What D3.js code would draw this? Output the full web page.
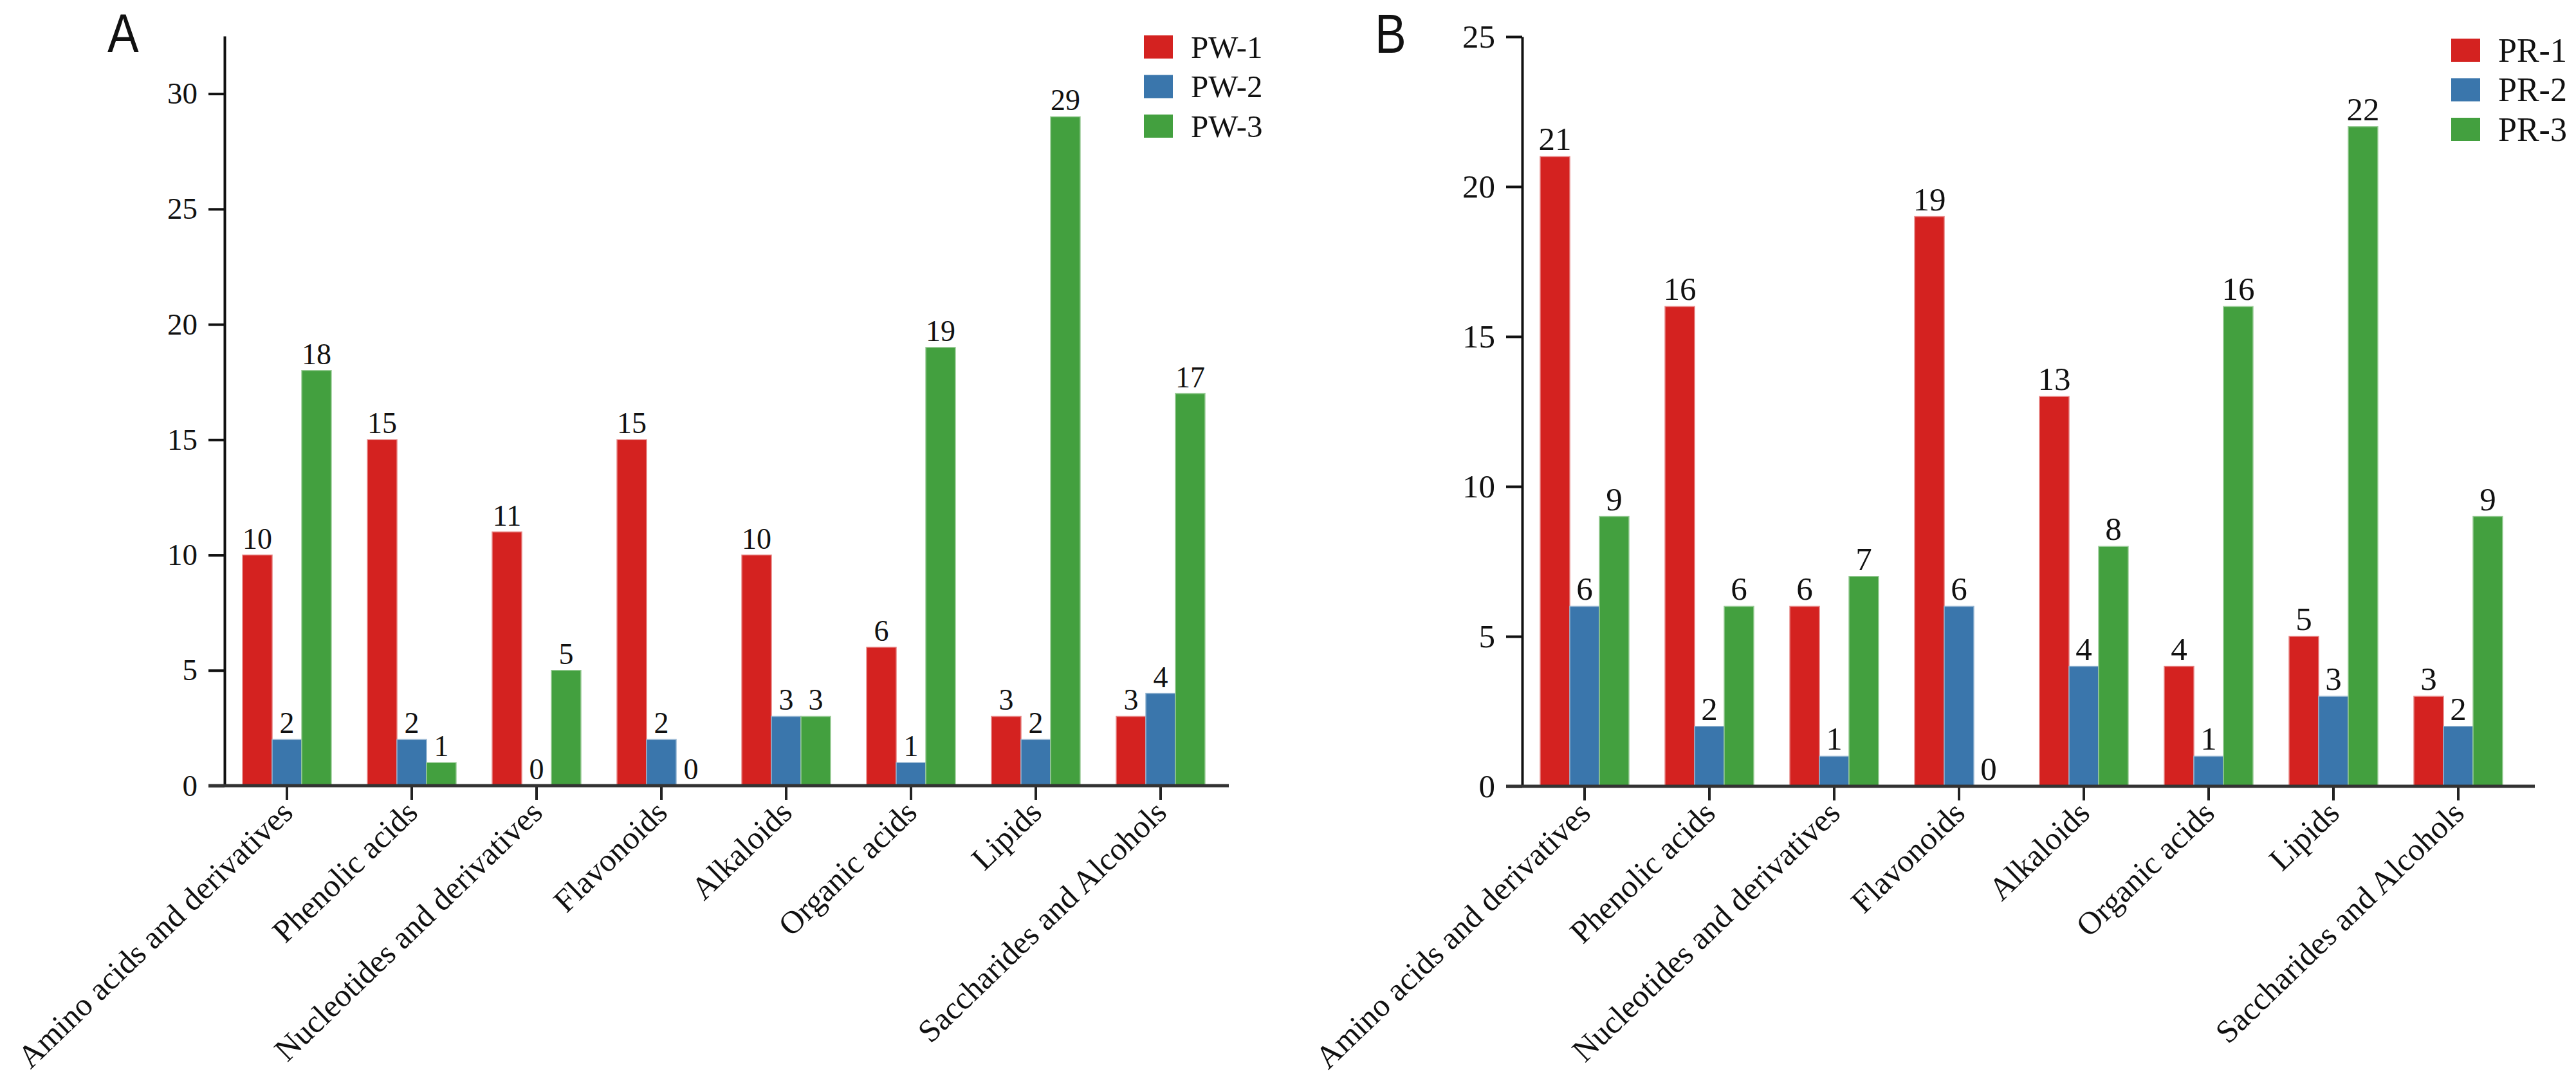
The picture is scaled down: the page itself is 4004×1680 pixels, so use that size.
<!DOCTYPE html>
<html>
<head>
<meta charset="utf-8">
<script src="https://cdn.jsdelivr.net/npm/d3@7"></script>
<style>
  body { margin: 0; background: #fff; }
  svg { display: block; }
</style>
</head>
<body>
<div id="chart"></div>
<script>
// data ---------------------------------------------------------
const categories = [
  "Amino acids and derivatives",
  "Phenolic acids",
  "Nucleotides and derivatives",
  "Flavonoids",
  "Alkaloids",
  "Organic acids",
  "Lipids",
  "Saccharides and Alcohols",
]
const seriesColors = ["#d42220", "#3a76ac", "#43a03f"]

const seriesA = ["PW-1", "PW-2", "PW-3"]
const pw1 = [10, 15, 11, 15, 10, 6, 3, 3]
const pw2 = [2, 2, 0, 2, 3, 1, 2, 4]
const pw3 = [18, 1, 5, 0, 3, 19, 29, 17]
const yTicksA = [0, 5, 10, 15, 20, 25, 30]

const seriesB = ["PR-1", "PR-2", "PR-3"]
const pr1 = [21, 16, 6, 19, 13, 4, 5, 3]
const pr2 = [6, 2, 1, 6, 4, 1, 3, 2]
const pr3 = [9, 6, 7, 0, 8, 16, 22, 9]
const yTicksB = [0, 5, 10, 15, 20, 25]

// layout -------------------------------------------------------
const W = 4004, H = 1680
const SERIF = "'Liberation Serif', 'Times New Roman', Times, serif"

const svg = d3.select("#chart").append("svg")
  .attr("width", W).attr("height", H)
  .attr("viewBox", `0 0 ${W} ${H}`)

function drawPanel(p) {
  const g = svg.append("g")

  // SCALES ----------------------
  const x = d3.scaleBand()
    .domain(categories)
    .range([p.left, p.left + 8 * 194])
    .paddingInner(0.289)
    .paddingOuter(0.1445)
  const xs = d3.scaleBand()
    .domain(p.series)
    .range([0, x.bandwidth()])
  const y = d3.scaleLinear()
    .domain([0, p.yMax])
    .range([p.base, p.top])

  // BARS ------------------------
  const rows = categories.map((c, i) => ({
    cat: c,
    vals: p.series.map((s, j) => ({ s, j, v: p.values[j][i] })),
  }))

  const groups = g.selectAll(".grp").data(rows).enter()
    .append("g")
    .attr("transform", d => `translate(${x(d.cat)},0)`)

  groups.selectAll("rect").data(d => d.vals).enter()
    .append("rect")
    .attr("x", d => xs(d.s))
    .attr("y", d => y(d.v))
    .attr("width", xs.bandwidth())
    .attr("height", d => p.base - y(d.v))
    .attr("fill", d => seriesColors[d.j])
    .attr("stroke", d => d3.interpolateRgb(seriesColors[d.j], "#fff")(0.45))
    .attr("stroke-width", d => (d.v > 0 ? 1.5 : 0))

  groups.selectAll("text").data(d => d.vals).enter()
    .append("text")
    .attr("x", d => xs(d.s) + xs.bandwidth() / 2)
    .attr("y", d => y(d.v) - 10)
    .attr("text-anchor", "middle")
    .attr("fill", "#111")
    .style("font-family", SERIF)
    .style("font-size", p.valueFont + "px")
    .text(d => d.v)

  // AXES ------------------------
  const gY = g.append("g").attr("transform", `translate(${p.left},0)`)
  gY.call(d3.axisLeft(y).tickValues(p.yTicks).tickSize(25).tickSizeOuter(0).tickPadding(17))
  gY.select(".domain").attr("stroke", "#111").attr("stroke-width", 4)
  gY.selectAll(".tick line").attr("stroke", "#111").attr("stroke-width", 4)
  gY.selectAll(".tick text")
    .attr("fill", "#111")
    .style("font-family", SERIF)
    .style("font-size", p.tickFont + "px")

  const gX = g.append("g").attr("transform", `translate(0,${p.base})`)
  gX.call(d3.axisBottom(x).tickSize(22).tickSizeOuter(0))
  gX.select(".domain").remove()
  gX.append("line")
    .attr("x1", p.left - 25).attr("x2", p.axisEnd)
    .attr("stroke", "#333").attr("stroke-width", 5)
  gX.selectAll(".tick line").attr("stroke", "#222").attr("stroke-width", 4)
  gX.selectAll(".tick text")
    .attr("fill", "#111")
    .attr("x", 0).attr("y", 0).attr("dy", null)
    .attr("text-anchor", "end")
    .attr("transform", "translate(12,45) rotate(-44)")
    .style("font-family", SERIF)
    .style("font-size", "50px")

  // LEGEND ----------------------
  const leg = g.selectAll(".leg").data(p.series).enter()
    .append("g")
    .attr("transform", (d, i) => `translate(${p.legX},${p.legY + i * 61.5})`)
  leg.append("rect")
    .attr("x", 0).attr("y", -18)
    .attr("width", 45).attr("height", 36)
    .attr("fill", (d, i) => seriesColors[i])
  leg.append("text")
    .attr("x", 73).attr("y", 0)
    .attr("dy", "0.34em")
    .attr("fill", "#111")
    .style("font-family", SERIF)
    .style("font-size", p.legFont + "px")
    .text(d => d)

  // PANEL LETTER ----------------
  svg.append("text")
    .attr("transform", `translate(${p.letterX},${p.letterY}) scale(0.85,1)`)
    .style("font-family", "'Liberation Sans', Arial, sans-serif")
    .style("font-size", "86px")
    .attr("fill", "#111")
    .text(p.letter)
}

drawPanel({
  letter: "A", letterX: 167, letterY: 81,
  left: 349, axisEnd: 1910, base: 1221, top: 56, yMax: 32.5,
  yTicks: yTicksA, series: seriesA, values: [pw1, pw2, pw3],
  tickFont: 47, valueFont: 46, legFont: 49,
  legX: 1778, legY: 73,
})

drawPanel({
  letter: "B", letterX: 2137, letterY: 82,
  left: 2366, axisEnd: 3940, base: 1222, top: 57, yMax: 25,
  yTicks: yTicksB, series: seriesB, values: [pr1, pr2, pr3],
  tickFont: 51, valueFont: 51, legFont: 52,
  legX: 3810, legY: 78,
})
</script>
</body>
</html>
